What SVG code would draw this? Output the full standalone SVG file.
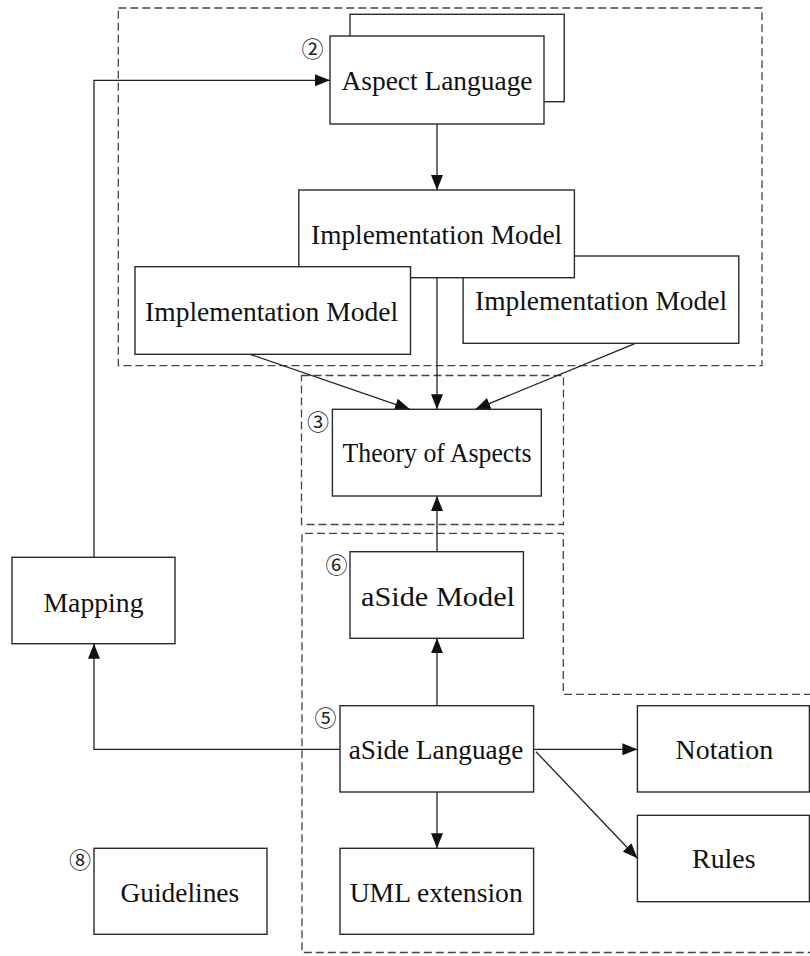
<svg xmlns="http://www.w3.org/2000/svg" width="810" height="956" viewBox="0 0 810 956">
<style>
.box{fill:#fff;stroke:#2a2a2a;stroke-width:1.4}
.lbl{font-family:"Liberation Serif","Times New Roman",serif;font-size:28px;fill:#111;text-anchor:middle}
.num{font-family:"Noto Sans CJK JP","DejaVu Sans",sans-serif;font-size:22px;fill:#222;text-anchor:middle}
.dash{fill:none;stroke:#444;stroke-width:1.3;stroke-dasharray:8 4}
.con{fill:none;stroke:#222;stroke-width:1.3;marker-end:url(#ah)}
</style>
<defs>
<marker id="ah" markerUnits="userSpaceOnUse" markerWidth="15" markerHeight="12" refX="15" refY="6" orient="auto">
<path d="M0,0 L15,6 L0,12 z" fill="#111"/>
</marker>
</defs>
<rect width="810" height="956" fill="#fff"/>
<g id="regions">
<rect class="dash" x="118.3" y="8" width="643.7" height="357.7"/>
<rect class="dash" x="301.5" y="375.5" width="262" height="149"/>
<path class="dash" d="M812,694.3 H563.3 V533.3 H302 V952.5 H812"/>
</g>
<g id="connectors">
<path class="con" d="M94,557.3 V80.3 H330"/>
<path class="con" d="M340,749.3 H94 V643.7"/>
<path class="con" d="M437,124 V190"/>
<path class="con" d="M250,354.3 L410,409.3"/>
<path class="con" d="M437,277.7 V409.3"/>
<path class="con" d="M635.4,343.3 L475.4,409.3"/>
<path class="con" d="M437,551.7 V496"/>
<path class="con" d="M437,705.7 V638.3"/>
<path class="con" d="M533.6,749.3 H637.4"/>
<path class="con" d="M536,751.7 L637.4,858.3"/>
<path class="con" d="M437,792 V848.3"/>
</g>
<g id="aspect-language">
<rect class="box" x="350" y="14.3" width="214.2" height="87.4"/>
<rect class="box" x="330" y="36" width="214" height="88"/>
<text class="num" x="312.5" y="56.8">②</text>
<text class="lbl" x="437" y="90" textLength="191" lengthAdjust="spacingAndGlyphs">Aspect Language</text>
</g>
<g id="impl-model-right">
<rect class="box" x="463.1" y="256" width="275.7" height="87.3"/>
<text class="lbl" x="601" y="310" textLength="252" lengthAdjust="spacingAndGlyphs">Implementation Model</text>
</g>
<g id="impl-model-center">
<rect class="box" x="298.8" y="190" width="275.6" height="87.7"/>
<text class="lbl" x="436.6" y="244.3" textLength="251" lengthAdjust="spacingAndGlyphs">Implementation Model</text>
</g>
<g id="impl-model-left">
<rect class="box" x="135" y="266.7" width="275.5" height="87.6"/>
<text class="lbl" x="271.6" y="320.7" textLength="253" lengthAdjust="spacingAndGlyphs">Implementation Model</text>
</g>
<g id="theory-of-aspects">
<rect class="box" x="332.4" y="409.3" width="208.9" height="86.7"/>
<text class="num" x="318" y="430.2">③</text>
<text class="lbl" x="437" y="461.7" textLength="189" lengthAdjust="spacingAndGlyphs">Theory of Aspects</text>
</g>
<g id="aside-model">
<rect class="box" x="350" y="551.7" width="173.4" height="86.6"/>
<text class="num" x="336.5" y="572.5">⑥</text>
<text class="lbl" x="438" y="606" textLength="154" lengthAdjust="spacingAndGlyphs">aSide Model</text>
</g>
<g id="mapping">
<rect class="box" x="12" y="557.3" width="163" height="86.4"/>
<text class="lbl" x="93.5" y="611.7" textLength="100" lengthAdjust="spacingAndGlyphs">Mapping</text>
</g>
<g id="aside-language">
<rect class="box" x="340" y="705.7" width="193.6" height="86.3"/>
<text class="num" x="325.4" y="725.8">⑤</text>
<text class="lbl" x="436" y="759.3" textLength="174.5" lengthAdjust="spacingAndGlyphs">aSide Language</text>
</g>
<g id="notation">
<rect class="box" x="637.4" y="705.7" width="172" height="86.3"/>
<text class="lbl" x="724.4" y="759.3" textLength="97.6" lengthAdjust="spacingAndGlyphs">Notation</text>
</g>
<g id="rules">
<rect class="box" x="637.4" y="815.3" width="172" height="86.4"/>
<text class="lbl" x="723.8" y="868.3" textLength="63.5" lengthAdjust="spacingAndGlyphs">Rules</text>
</g>
<g id="uml-extension">
<rect class="box" x="340" y="848.3" width="193.6" height="86"/>
<text class="lbl" x="436.2" y="901.7" textLength="173" lengthAdjust="spacingAndGlyphs">UML extension</text>
</g>
<g id="guidelines">
<rect class="box" x="94" y="848.3" width="173" height="86"/>
<text class="num" x="80" y="867.8">⑧</text>
<text class="lbl" x="179.8" y="901.7" textLength="118.8" lengthAdjust="spacingAndGlyphs">Guidelines</text>
</g>
</svg>
